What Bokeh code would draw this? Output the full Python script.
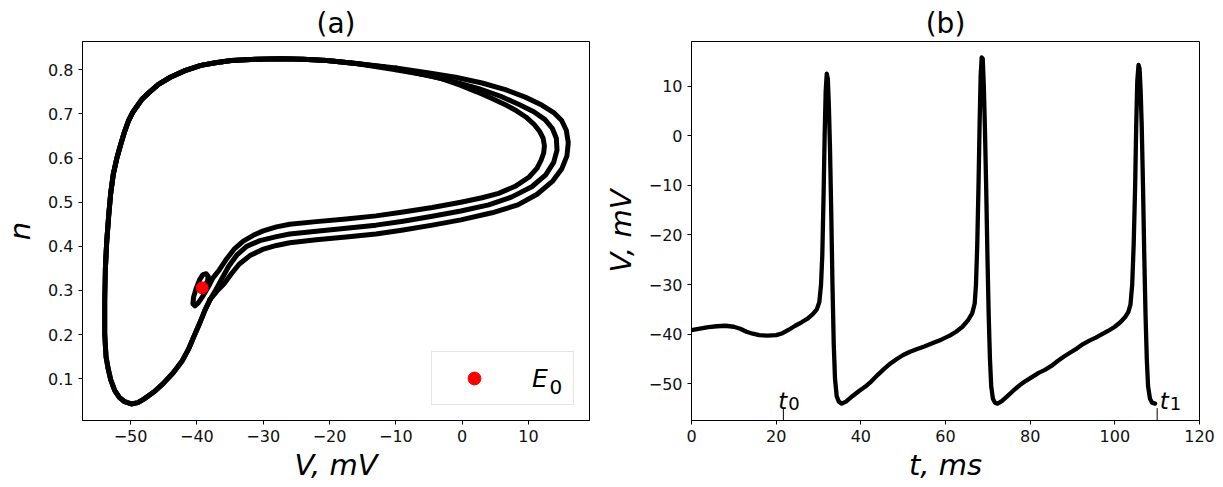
from bokeh.plotting import figure
from bokeh.layouts import row
from bokeh.models import FixedTicker, Legend, LegendItem, Range1d, Label
from bokeh.embed import file_html
from bokeh.resources import INLINE
from bokeh.core.properties import value

FONT = "DejaVu Sans"

# ---------------- data: panel (a) phase portrait (V in mV, n) ----------------
# start: small loop around the equilibrium
start_V = [-39.2, -38.8, -38.4, -38.3, -38.6, -39.1, -39.6, -40.1, -40.5, -40.6,
           -40.3, -39.8, -39.2, -38.6, -38.0]
start_n = [0.300, 0.310, 0.322, 0.332, 0.338, 0.336, 0.324, 0.305, 0.285, 0.270,
           0.265, 0.272, 0.285, 0.300, 0.316]

# loop 1 (inner, first spike)
loop1_V = [-37.6, -36.6, -35.5, -34.3, -33.0, -31.5, -30.0, -28.0, -26.0, -22.0,
           -17.5, -13.0, -8.9, -4.5, -0.2, 3.0, 5.5, 8.0, 10.1, 11.3,
           11.9, 12.3, 12.4, 12.2, 11.7, 10.8, 9.6, 8.2, 6.6, 4.5,
           2.2, -0.3, -3.1, -7.5, -11.7]
loop1_n = [0.328, 0.347, 0.372, 0.395, 0.412, 0.425, 0.435, 0.444, 0.450, 0.456,
           0.462, 0.469, 0.478, 0.488, 0.500, 0.510, 0.520, 0.536, 0.557, 0.577,
           0.595, 0.612, 0.628, 0.645, 0.660, 0.677, 0.693, 0.707, 0.720, 0.735,
           0.750, 0.765, 0.780, 0.794, 0.806]

# loop 2 (outer, second spike)
loop2_V = [-38.0, -37.0, -35.9, -34.8, -33.6, -32.0, -30.1, -28.0, -26.0, -22.0,
           -17.5, -13.0, -8.9, -4.5, -0.2, 4.5, 8.4, 11.3, 13.6, 15.0,
           15.8, 16.0, 15.7, 15.0, 13.8, 12.0, 9.5, 6.5, 3.0, -1.0,
           -5.0, -10.0]
loop2_n = [0.280, 0.298, 0.315, 0.338, 0.360, 0.379, 0.393, 0.402, 0.408, 0.415,
           0.421, 0.428, 0.437, 0.448, 0.460, 0.476, 0.494, 0.518, 0.547, 0.575,
           0.605, 0.635, 0.663, 0.685, 0.703, 0.720, 0.738, 0.755, 0.770, 0.783,
           0.793, 0.804]

# loop 3 (middle, third spike)
loop3_V = [-38.0, -37.2, -36.3, -35.2, -34.0, -32.5, -30.5, -28.0, -26.0, -22.0,
           -17.5, -13.0, -8.9, -4.5, -0.2, 4.0, 7.5, 10.5, 12.6, 13.8,
           14.3, 14.2, 13.6, 12.5, 10.8, 8.5, 5.8, 2.5, -1.0, -5.0,
           -10.0]
loop3_n = [0.280, 0.300, 0.325, 0.355, 0.380, 0.400, 0.413, 0.422, 0.428, 0.434,
           0.441, 0.448, 0.457, 0.468, 0.480, 0.494, 0.512, 0.535, 0.562, 0.590,
           0.618, 0.645, 0.667, 0.687, 0.705, 0.722, 0.740, 0.757, 0.772, 0.787,
           0.800]

# shared top, left and lower-left return branch
ret_V = [-16.0, -20.4, -24.0, -27.3, -31.0, -34.8, -37.2, -39.4, -41.8, -44.0,
         -45.8, -47.4, -48.3, -49.0, -49.7, -50.3, -50.9, -51.5, -52.1, -52.6,
         -53.0, -53.3, -53.6, -53.8, -53.9, -53.9, -53.8, -53.7, -53.4, -53.0,
         -52.4, -51.7, -50.9, -49.9, -48.9, -48.0, -46.5, -45.1, -43.6, -42.2,
         -41.3, -40.5, -39.6, -38.8, -38.0]
ret_n = [0.814, 0.821, 0.824, 0.825, 0.824, 0.821, 0.816, 0.810, 0.798, 0.783,
         0.767, 0.746, 0.733, 0.718, 0.703, 0.685, 0.660, 0.630, 0.598, 0.564,
         0.520, 0.470, 0.410, 0.350, 0.277, 0.202, 0.175, 0.150, 0.124, 0.098,
         0.074, 0.058, 0.048, 0.043, 0.046, 0.054, 0.070, 0.089, 0.113, 0.141,
         0.166, 0.194, 0.225, 0.255, 0.280]
# final descent (ends on the left branch)
end_V = [-16.0, -20.4, -24.0, -27.3, -31.0, -34.8, -37.2, -39.4, -41.8, -44.0,
         -45.8, -47.4, -48.3, -49.0, -49.7, -50.3, -50.9, -51.5, -52.1, -52.6,
         -53.0, -53.3, -53.6, -53.8]
end_n = [0.814, 0.821, 0.824, 0.825, 0.824, 0.821, 0.816, 0.810, 0.798, 0.783,
         0.767, 0.746, 0.733, 0.718, 0.703, 0.685, 0.660, 0.630, 0.598, 0.564,
         0.520, 0.470, 0.410, 0.350]

E0_V = [-39.2]
E0_n = [0.306]

# ---------------- data: panel (b) time series ----------------
t_ms = [0, 2, 4, 6, 8, 10, 11.5, 13, 14.5, 16, 18, 20, 21.5, 23, 24.5, 26, 27.5,
        28.7, 29.6, 30.2, 30.6, 30.9, 31.2, 31.45, 31.7, 31.95, 32.2, 32.45, 32.7,
        33.0, 33.3, 33.6, 33.9, 34.3, 34.8, 35.5, 36.5, 38, 39.5, 41, 42.5, 44,
        45.5, 47, 48.5, 50, 51.5, 53, 55, 57, 59, 61, 62.5, 64, 65.3, 66.3, 66.9,
        67.2, 67.5, 67.8, 68.05, 68.3, 68.55, 68.8, 69.05, 69.3, 69.6, 69.9, 70.2,
        70.5, 70.8, 71.2, 71.7, 72.3, 73.3, 74.5, 76, 77.5, 79, 80.5, 82, 83.5, 85,
        86.5, 88, 89.5, 91, 92.5, 94, 95.5, 97, 98.5, 100, 101.3, 102.4, 103.2,
        103.7, 104.1, 104.45, 104.8, 105.05, 105.3, 105.6, 105.85, 106.1, 106.35,
        106.65, 106.95, 107.25, 107.55, 107.85, 108.3, 108.8, 109.5]
V_mV = [-39.2, -38.9, -38.6, -38.4, -38.3, -38.5, -38.9, -39.5, -39.9, -40.2,
        -40.3, -40.2, -39.8, -39.1, -38.3, -37.6, -36.8, -35.9, -35.0, -33.5,
        -30.0, -24.0, -12.0, 0.0, 9.0, 12.5, 11.5, 6.0, -2.0, -15.0, -30.0,
        -42.0, -49.0, -52.5, -53.6, -54.0, -53.6, -52.5, -51.5, -50.6, -49.5,
        -48.2, -47.0, -45.9, -45.0, -44.2, -43.6, -43.1, -42.5, -41.8, -41.1,
        -40.3, -39.5, -38.5, -37.2, -35.8, -33.8, -30.0, -22.0, -10.0, 2.0,
        12.0, 15.8, 15.5, 10.0, 2.0, -10.0, -24.0, -36.0, -45.0, -50.5, -53.0,
        -53.8, -54.0, -53.5, -52.6, -51.4, -50.3, -49.4, -48.6, -47.8, -47.2,
        -46.4, -45.4, -44.5, -43.7, -42.9, -42.0, -41.3, -40.7, -40.0, -39.3,
        -38.5, -37.6, -36.6, -35.5, -34.0, -30.0, -22.0, -10.0, 2.0, 11.0, 14.3,
        13.5, 9.0, 2.0, -10.0, -24.0, -36.0, -45.0, -50.5, -53.0, -53.8, -54.0]

mark_t = [21.7, 110.0]
mark_label_t = [20.5, 110.6]
mark_label_sub = ["0", "1"]

# ticks
xa_ticks = [-50, -40, -30, -20, -10, 0, 10]
ya_ticks = [0.1, 0.2, 0.3, 0.4, 0.5, 0.6, 0.7, 0.8]
xb_ticks = [0, 20, 40, 60, 80, 100, 120]
yb_ticks = [-50, -40, -30, -20, -10, 0, 10]


def minus(v):
    s = ("%g" % v)
    return s.replace("-", "\u2212")


def style(p, xt, yt):
    p.grid.visible = False
    p.outline_line_color = "black"
    p.outline_line_width = 1
    p.background_fill_color = "white"
    p.border_fill_color = "white"
    p.title.align = "center"
    p.title.text_font = FONT
    p.title.text_font_size = "28px"
    p.title.text_font_style = "normal"
    p.title.text_color = "black"
    p.title.standoff = 3
    for ax in (p.xaxis[0], p.yaxis[0]):
        ax.axis_line_color = "black"
        ax.major_tick_line_color = "black"
        ax.major_tick_out = 4
        ax.major_tick_in = 0
        ax.minor_tick_line_color = None
        ax.major_label_text_font = FONT
        ax.major_label_text_font_size = "16px"
        ax.major_label_text_color = "#111111"
        ax.axis_label_text_font = FONT
        ax.axis_label_text_font_size = "29px"
        ax.axis_label_text_font_style = "italic"
        ax.axis_label_text_color = "black"
    p.xaxis[0].ticker = FixedTicker(ticks=xt)
    p.yaxis[0].ticker = FixedTicker(ticks=yt)
    p.xaxis[0].major_label_overrides = {v: minus(v) for v in xt}
    p.yaxis[0].major_label_overrides = {v: minus(v) for v in yt}
    p.xaxis[0].major_label_standoff = 5
    p.yaxis[0].major_label_standoff = 5
    p.xaxis[0].axis_label_standoff = 3
    p.yaxis[0].axis_label_standoff = 8


LW = 5

# ---------------- panel (a) ----------------
p1 = figure(width=600, height=487, output_backend="svg", toolbar_location=None,
            x_range=Range1d(-57.25, 19.2), y_range=Range1d(0.0055, 0.864),
            min_border_left=80, min_border_right=11, min_border_top=41,
            min_border_bottom=67, title="(a)")
style(p1, xa_ticks, ya_ticks)
p1.xaxis[0].axis_label = "V, mV"
p1.yaxis[0].axis_label = "n"

for xs, ys in ((start_V + loop1_V, start_n + loop1_n), (ret_V, ret_n),
               (loop2_V, loop2_n), (ret_V, ret_n), (loop3_V, loop3_n), (end_V, end_n)):
    p1.line(xs, ys, line_color="black", line_width=LW,
            line_join="round", line_cap="round")
# joins between segments
p1.line([loop1_V[-1], ret_V[0]], [loop1_n[-1], ret_n[0]], line_color="black",
        line_width=LW, line_cap="round")
p1.line([loop2_V[-1], ret_V[0]], [loop2_n[-1], ret_n[0]], line_color="black",
        line_width=LW, line_cap="round")
p1.line([loop3_V[-1], end_V[0]], [loop3_n[-1], end_n[0]], line_color="black",
        line_width=LW, line_cap="round")

dot = p1.scatter(E0_V, E0_n, size=12, color="red", line_color="red")
leg = Legend(items=[LegendItem(label="E", renderers=[dot])],
             location="bottom_right", margin=15, padding=10, spacing=0,
             glyph_width=64, glyph_height=32, label_height=32,
             label_standoff=26, label_width=31, label_text_font=FONT,
             label_text_font_size="25px", label_text_font_style="italic",
             label_text_color="black", border_line_color="#cccccc",
             border_line_width=1, background_fill_alpha=0.0)
p1.add_layout(leg)
p1.add_layout(Label(x=467, y=34, x_units="screen", y_units="screen", text="0",
                    text_font=FONT, text_font_size="20px", text_color="black",
                    text_baseline="alphabetic", text_align="left",
                    level="overlay"))

# ---------------- panel (b) ----------------
p2 = figure(width=623, height=487, output_backend="svg", toolbar_location=None,
            x_range=Range1d(0, 120), y_range=Range1d(-57.4, 19.0),
            min_border_left=91, min_border_right=24, min_border_top=41,
            min_border_bottom=67, title="(b)")
style(p2, xb_ticks, yb_ticks)
p2.xaxis[0].axis_label = "t, ms"
p2.yaxis[0].axis_label = "V, mV"

p2.line(t_ms, V_mV, line_color="black", line_width=4.3, line_join="round",
        line_cap="round")
p2.segment(x0=mark_t, y0=[-57.4, -57.4], x1=mark_t, y1=[-54.9, -54.9],
           line_color="black", line_width=1)
p2.text(x=mark_label_t, y=[-53.4, -53.4], text=["t", "t"],
        text_font=value(FONT), text_font_style="italic", text_font_size="23px",
        text_align="left", text_baseline="alphabetic", text_color="black")
p2.text(x=mark_label_t, y=[-53.4, -53.4], text=mark_label_sub,
        x_offset=10, y_offset=3,
        text_font=value(FONT), text_font_style="normal", text_font_size="18px",
        text_align="left", text_baseline="alphabetic", text_color="black")

layout = row(p1, p2)
open("out.html", "w").write(file_html(layout, INLINE))
